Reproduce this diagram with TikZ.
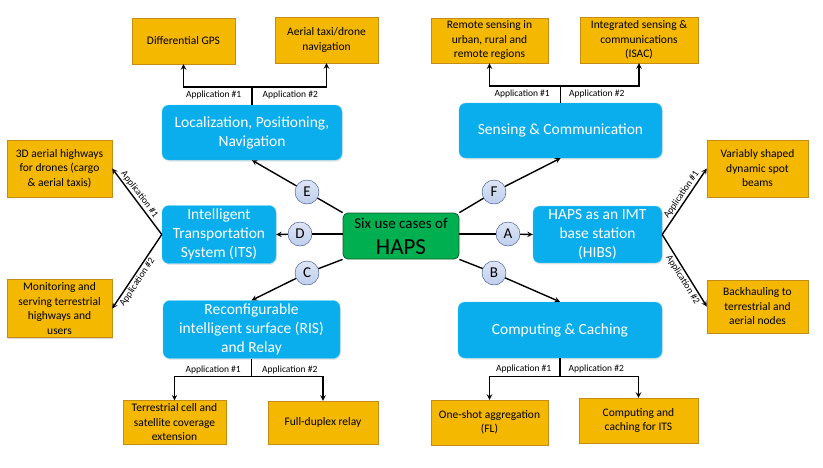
\documentclass[tikz,border=0pt]{standalone}
\usepackage{fontspec}
\setmainfont{Carlito}
\usetikzlibrary{positioning,shadows}

\definecolor{casecyan}{RGB}{10,174,236}
\definecolor{caseedge}{RGB}{60,196,245}
\definecolor{appgold}{RGB}{244,184,0}
\definecolor{appedge}{RGB}{196,140,20}
\definecolor{hubgreen}{RGB}{0,176,80}
\definecolor{hubedge}{RGB}{20,90,40}
\definecolor{letterfill}{RGB}{190,206,236}
\definecolor{letteredge}{RGB}{45,72,130}

\tikzset{
  >=stealth,
  usecase/.style={rectangle, rounded corners=7pt, fill=casecyan, draw=caseedge,
    text=white, align=center, font=\fontsize{15.5}{19}\selectfont,
    drop shadow={opacity=0.2, shadow xshift=1pt, shadow yshift=-1.5pt}},
  appbox/.style={rectangle, fill=appgold, draw=appedge, align=center,
    font=\fontsize{11.5}{14.5}\selectfont,
    drop shadow={opacity=0.3, shadow xshift=1pt, shadow yshift=-1pt}},
  hub/.style={rectangle, rounded corners=5pt, fill=hubgreen, draw=hubedge,
    line width=0.8pt, align=center, minimum width=116pt, minimum height=46pt,
    font=\fontsize{15}{26}\selectfont, inner sep=1pt},
  letter/.style={circle, minimum size=24pt, inner sep=0pt, draw=letteredge,
    top color=letterfill!50!white, bottom color=letterfill, font=\fontsize{15}{15}\selectfont},
  applbl/.style={font=\fontsize{9.5}{9.5}\selectfont, inner sep=1.5pt},
  link/.style={line width=1.4pt}
}

\begin{document}
\begin{tikzpicture}[x=1pt,y=-1pt]
\useasboundingbox (0,0) rectangle (823,467);

% centre
\node[hub] (hub) at (401,236) {Six use cases of\\{\fontsize{23}{26}\selectfont HAPS}};

% use cases
\node[usecase, minimum width=180pt, minimum height=55pt] (lpn) at (252,132.5) {Localization, Positioning,\\Navigation};
\node[usecase, minimum width=203pt, minimum height=55pt] (sense) at (560.5,130.5) {Sensing \& Communication};
\node[usecase, minimum width=114pt, minimum height=55pt] (its) at (219,234.5) {Intelligent\\Transportation\\System (ITS)};
\node[usecase, minimum width=129pt, minimum height=55pt] (hibs) at (597.5,234.5) {HAPS as an IMT\\base station\\(HIBS)};
\node[usecase, minimum width=177pt, minimum height=55pt] (ris) at (251.5,329.5) {Reconfigurable\\intelligent surface (RIS)\\and Relay};
\node[usecase, minimum width=204pt, minimum height=56pt] (cc) at (560,330) {Computing \& Caching};

% applications
\node[appbox, minimum width=103pt, minimum height=46pt] (dgps) at (183.5,41) {Differential GPS};
\node[appbox, minimum width=103pt, minimum height=46pt] (taxi) at (326.5,40) {Aerial taxi/drone\\navigation};
\node[appbox, minimum width=117pt, minimum height=45pt] (remote) at (489.5,40.5) {Remote sensing in\\urban, rural and\\remote regions};
\node[appbox, minimum width=118pt, minimum height=46pt] (isac) at (639,40) {Integrated sensing \&\\communications\\(ISAC)};
\node[appbox, minimum width=105pt, minimum height=57pt] (highways) at (59.5,168.5) {3D aerial highways\\for drones (cargo\\\& aerial taxis)};
\node[appbox, minimum width=105pt, minimum height=57pt] (monitor) at (59.5,308.5) {Monitoring and\\serving terrestrial\\highways and\\users};
\node[appbox, minimum width=101pt, minimum height=57pt] (beams) at (757.5,168.5) {Variably shaped\\dynamic spot\\beams};
\node[appbox, minimum width=101pt, minimum height=53pt] (backhaul) at (757.5,306.5) {Backhauling to\\terrestrial and\\aerial nodes};
\node[appbox, minimum width=103pt, minimum height=43pt] (terr) at (174.5,422.5) {Terrestrial cell and\\satellite coverage\\extension};
\node[appbox, minimum width=110pt, minimum height=43pt] (fdrelay) at (323,422.5) {Full-duplex relay};
\node[appbox, minimum width=117pt, minimum height=45pt] (oneshot) at (489.5,422.5) {One-shot aggregation\\(FL)};
\node[appbox, minimum width=119pt, minimum height=45pt] (compits) at (638.5,420.5) {Computing and\\caching for ITS};

% lettered circles
\node[letter] (E) at (307,192) {E};
\node[letter] (F) at (494,192) {F};
\node[letter] (D) at (300,234) {D};
\node[letter] (A) at (508,234) {A};
\node[letter] (C) at (307,273) {C};
\node[letter] (B) at (494,273) {B};

\draw[link] (hub.north west) -- (E) (hub.north east) -- (F) (hub.south west) -- (C) (hub.south east) -- (B);
\draw[link] (D) -- (D -| hub.west) (A) -- (A -| hub.east);
\draw[link,->] (E) -- (lpn.south);
\draw[link,->] (F) -- (sense.south);
\draw[link,->] (D) -- (its.east);
\draw[link,->] (A) -- (hibs.west);
\draw[link,->] (C) -- (ris.north);
\draw[link,->] (B) -- (cc.north);

% application forks
\draw[link] (lpn.north) -- ++(0,-18) coordinate (lpnfork);
\draw[link,->] (lpnfork) -| (dgps.south);
\draw[link,->] (lpnfork) -| (taxi.south);
\node[applbl, below left=2pt and 9pt of lpnfork] {Application \#1};
\node[applbl, below right=2pt and 9pt of lpnfork] {Application \#2};

\draw[link] (sense.north) -- ++(0,-17) coordinate (sensefork);
\draw[link,->] (sensefork) -| (remote.south);
\draw[link,->] (sensefork) -| (isac.south);
\node[applbl, below left=2pt and 9pt of sensefork] {Application \#1};
\node[applbl, below right=2pt and 7pt of sensefork] {Application \#2};

\draw[link] (ris.south) -- ++(0,18) coordinate (risfork);
\draw[link,->] (risfork) -| (terr.north);
\draw[link,->] (risfork) -| (fdrelay.north);
\node[applbl, above left=1pt and 9pt of risfork] {Application \#1};
\node[applbl, above right=1pt and 9pt of risfork] {Application \#2};

\draw[link] (cc.south) -- ++(0,18) coordinate (ccfork);
\draw[link,->] (ccfork) -| (oneshot.north);
\draw[link,->] (ccfork) -| (compits.north);
\node[applbl, above left=1pt and 7pt of ccfork] {Application \#1};
\node[applbl, above right=1pt and 7pt of ccfork] {Application \#2};

\draw[link,->] (its.west) -- (highways.east) node[applbl, pos=0.55, sloped, above] {Application \#1};
\draw[link,->] (its.west) -- (monitor.east) node[applbl, pos=0.6, sloped, below] {Application \#2};
\draw[link,->] (hibs.east) -- (beams.west) node[applbl, pos=0.55, sloped, above] {Application \#1};
\draw[link,->] (hibs.east) -- (backhaul.west) node[applbl, pos=0.58, sloped, below] {Application \#2};
\end{tikzpicture}
\end{document}
